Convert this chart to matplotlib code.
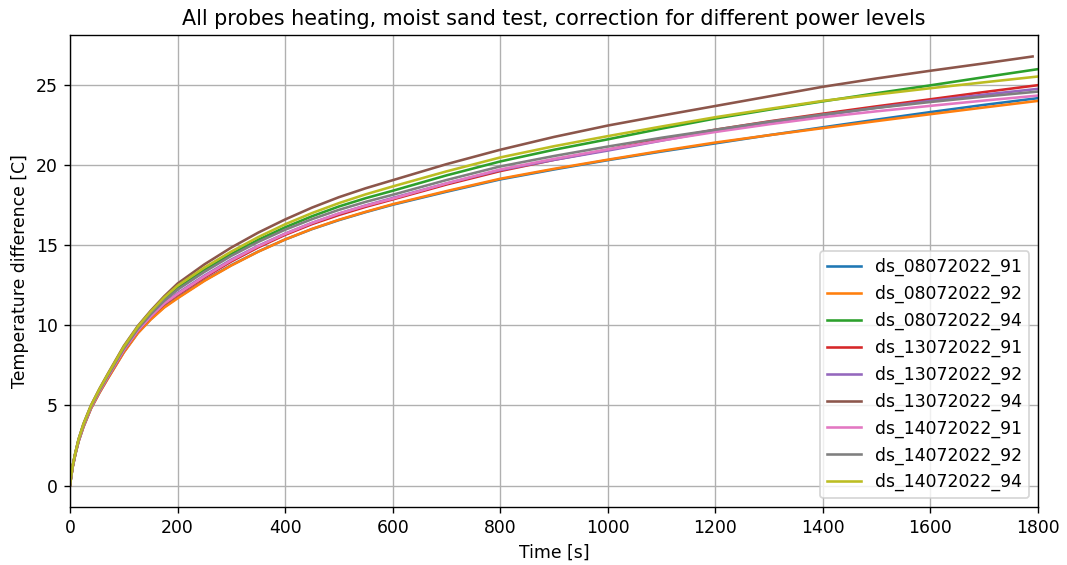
import numpy as np
import matplotlib
matplotlib.use("Agg")
import matplotlib.pyplot as plt

# --- sample times [s] ---
time_s = [0, 2, 5, 10, 16, 25, 39, 55, 70, 100, 126, 150, 175,
          200, 250, 300, 350, 400, 450, 500, 550, 600, 700, 800, 900,
          1000, 1100, 1200, 1300, 1400, 1500, 1600, 1700, 1800]

# --- temperature difference [C] per probe/test ---
ds_08072022_91 = [0, 0.5, 1.16, 1.96, 2.76, 3.66, 4.81, 5.81, 6.67, 8.32, 9.52, 10.38, 11.14,
                  11.72, 12.8, 13.75, 14.6, 15.35, 16.0, 16.56, 17.06, 17.52, 18.33, 19.1, 19.72,
                  20.3, 20.84, 21.35, 21.86, 22.35, 22.83, 23.3, 23.75, 24.17]
ds_08072022_92 = [0, 0.5, 1.15, 1.95, 2.75, 3.65, 4.8, 5.8, 6.65, 8.3, 9.5, 10.35, 11.1,
                  11.68, 12.77, 13.73, 14.59, 15.35, 16.01, 16.58, 17.08, 17.55, 18.37, 19.14, 19.76,
                  20.33, 20.88, 21.4, 21.86, 22.3, 22.74, 23.17, 23.59, 24.0]
ds_08072022_94 = [0, 0.54, 1.22, 2.02, 2.86, 3.79, 4.94, 5.98, 6.86, 8.58, 9.82, 10.74, 11.59,
                  12.32, 13.45, 14.45, 15.33, 16.11, 16.8, 17.41, 17.93, 18.39, 19.35, 20.22, 20.95,
                  21.6, 22.27, 22.9, 23.45, 23.97, 24.48, 24.97, 25.48, 25.98]
ds_13072022_91 = [0, 0.52, 1.18, 1.98, 2.8, 3.71, 4.86, 5.88, 6.74, 8.42, 9.64, 10.52, 11.31,
                  11.9, 12.98, 13.98, 14.86, 15.64, 16.31, 16.88, 17.39, 17.85, 18.78, 19.62, 20.32,
                  20.95, 21.6, 22.2, 22.72, 23.2, 23.66, 24.1, 24.55, 24.98]
ds_13072022_92 = [0, 0.52, 1.19, 1.99, 2.81, 3.73, 4.88, 5.9, 6.77, 8.46, 9.68, 10.57, 11.38,
                  12.0, 13.1, 14.1, 14.96, 15.72, 16.39, 16.97, 17.48, 17.94, 18.85, 19.68, 20.32,
                  20.9, 21.52, 22.13, 22.63, 23.1, 23.57, 24.0, 24.39, 24.75]
ds_13072022_94 = [0, 0.55, 1.25, 2.05, 2.9, 3.85, 5.0, 6.05, 6.95, 8.7, 9.95, 10.9, 11.8,
                  12.6, 13.8, 14.85, 15.78, 16.6, 17.34, 17.99, 18.55, 19.05, 20.05, 20.95, 21.75,
                  22.46, 23.08, 23.68, 24.28, 24.88, 25.4, 25.88, 26.34, 26.77]
ds_14072022_91 = [0, 0.52, 1.19, 1.99, 2.8, 3.72, 4.87, 5.89, 6.76, 8.44, 9.66, 10.54, 11.35,
                  11.95, 13.05, 14.05, 14.93, 15.7, 16.38, 16.97, 17.46, 17.9, 18.85, 19.72, 20.38,
                  20.97, 21.53, 22.06, 22.54, 22.98, 23.35, 23.69, 24.02, 24.33]
ds_14072022_92 = [0, 0.53, 1.21, 2.01, 2.84, 3.77, 4.92, 5.95, 6.83, 8.54, 9.77, 10.68, 11.52,
                  12.22, 13.33, 14.33, 15.2, 15.96, 16.62, 17.2, 17.7, 18.14, 19.06, 19.91, 20.56,
                  21.15, 21.7, 22.2, 22.7, 23.15, 23.56, 23.93, 24.27, 24.58]
ds_14072022_94 = [0, 0.55, 1.24, 2.04, 2.89, 3.83, 4.98, 6.03, 6.92, 8.66, 9.91, 10.85, 11.73,
                  12.47, 13.6, 14.6, 15.5, 16.3, 17.0, 17.62, 18.17, 18.66, 19.6, 20.47, 21.17,
                  21.8, 22.4, 22.98, 23.5, 24.0, 24.4, 24.79, 25.16, 25.52]

labels = ["ds_08072022_91", "ds_08072022_92", "ds_08072022_94",
          "ds_13072022_91", "ds_13072022_92", "ds_13072022_94",
          "ds_14072022_91", "ds_14072022_92", "ds_14072022_94"]
series = [ds_08072022_91, ds_08072022_92, ds_08072022_94,
          ds_13072022_91, ds_13072022_92, ds_13072022_94,
          ds_14072022_91, ds_14072022_92, ds_14072022_94]
# last sample time of each record (13072022_94 stopped a bit earlier)
end_time = [1800, 1800, 1800, 1800, 1800, 1790, 1800, 1800, 1800]

DPI = 124
fig, ax = plt.subplots(figsize=(1067 / DPI, 565 / DPI), dpi=DPI)
fig.subplots_adjust(left=0.0656, right=0.9728, top=0.938, bottom=0.1027)

for lab, vals, t_end in zip(labels, series, end_time):
    t = np.array(time_s, dtype=float)
    t[-1] = t_end
    ax.plot(t, vals, label=lab)

ax.set_xlim(0, 1800)
ax.set_xlabel("Time [s]")
ax.set_ylabel("Temperature difference [C]")
ax.set_title("All probes heating, moist sand test, correction for different power levels")
ax.grid(True)
ax.legend(loc="lower right")

fig.savefig("out.png", dpi=DPI)
